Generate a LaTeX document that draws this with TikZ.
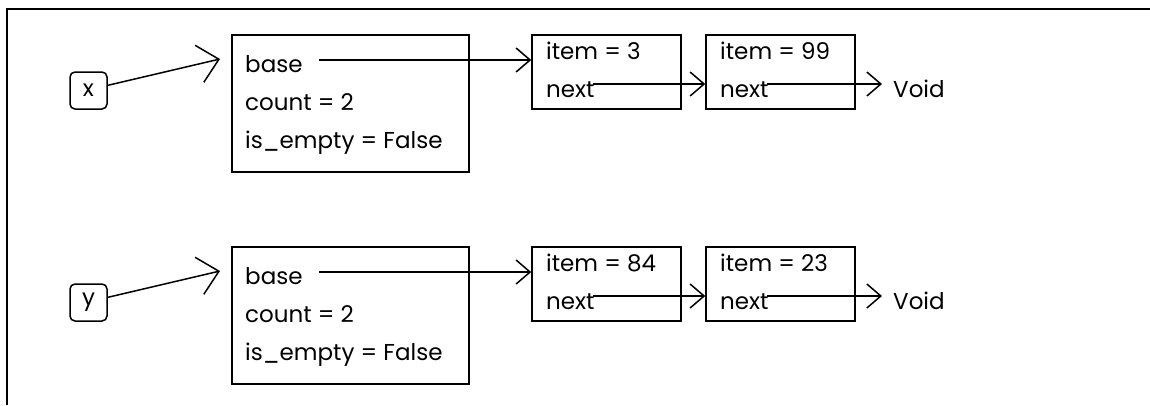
\documentclass[tikz,border=0pt]{standalone}
\usepackage{fontspec}
\setmainfont{Poppins}
\usepackage{tikz}
\usetikzlibrary{arrows.meta}

\tikzset{
	frame/.style={line width=1.8pt},
	var/.style={draw, line width=1.5pt, rounded corners=5pt, minimum size=37pt, inner sep=0pt},
	obj/.style={draw, line width=1.5pt, inner sep=0pt},
	field/.style={anchor=base west, inner sep=0pt},
	ptr/.style={line width=1.5pt, -{Straight Barb[length=20pt,width=38pt,line width=1.5pt]}},
	link/.style={line width=1.5pt, -{Straight Barb[length=14pt,width=24pt,line width=1.5pt]}}
}

\begin{document}
\begin{tikzpicture}[x=1pt, y=-1pt, font=\fontsize{23}{27}\selectfont]
	\useasboundingbox (0,0) rectangle (1150,405);
	\draw[frame] (1150,9) -- (7,9) -- (7,405);

	% list x
	\node[var] (x) at (88.5,90.5) {x};
	\node[obj, minimum width=237pt, minimum height=137pt] (ox) at (350.5,103.5) {};
	\node[field] (bx) at (245,72) {base};
	\node[field] (cx) at (245,110) {count = 2};
	\node[field] (ex) at (245,148) {is\_empty = False};
	\node[obj, minimum width=149pt, minimum height=74pt] (i1x) at (606.5,72) {};
	\node[field] (t1x) at (546,59) {item = 3};
	\node[field] (n1x) at (546,97) {next};
	\node[obj, minimum width=149pt, minimum height=74pt] (i2x) at (780.5,72) {};
	\node[field] (t2x) at (720,59) {item = 99};
	\node[field] (n2x) at (720,97) {next};
	\node[field] (vx) at (893,97) {Void};

	\coordinate (px) at (220,59);
	\coordinate (bsx) at (319,60);
	\coordinate (s1x) at (593,84);
	\coordinate (s2x) at (767,84);

	\draw[ptr] (x.15) -- (px);
	\draw[link] (bsx) -- (i1x.west |- bsx);
	\draw[link] (s1x) -- (i2x.west |- s1x);
	\draw[link] (s2x) -- ([xshift=-11pt]vx.west |- s2x);

	% list y
	\node[var] (y) at (88.5,302.5) {y};
	\node[obj, minimum width=237pt, minimum height=137pt] (oy) at (350.5,315.5) {};
	\node[field] (by) at (245,284) {base};
	\node[field] (cy) at (245,322) {count = 2};
	\node[field] (ey) at (245,360) {is\_empty = False};
	\node[obj, minimum width=149pt, minimum height=74pt] (i1y) at (606.5,284) {};
	\node[field] (t1y) at (546,271) {item = 84};
	\node[field] (n1y) at (546,309) {next};
	\node[obj, minimum width=149pt, minimum height=74pt] (i2y) at (780.5,284) {};
	\node[field] (t2y) at (720,271) {item = 23};
	\node[field] (n2y) at (720,309) {next};
	\node[field] (vy) at (893,309) {Void};

	\coordinate (py) at (220,271);
	\coordinate (bsy) at (319,272);
	\coordinate (s1y) at (593,296);
	\coordinate (s2y) at (767,296);

	\draw[ptr] (y.15) -- (py);
	\draw[link] (bsy) -- (i1y.west |- bsy);
	\draw[link] (s1y) -- (i2y.west |- s1y);
	\draw[link] (s2y) -- ([xshift=-11pt]vy.west |- s2y);
\end{tikzpicture}
\end{document}
